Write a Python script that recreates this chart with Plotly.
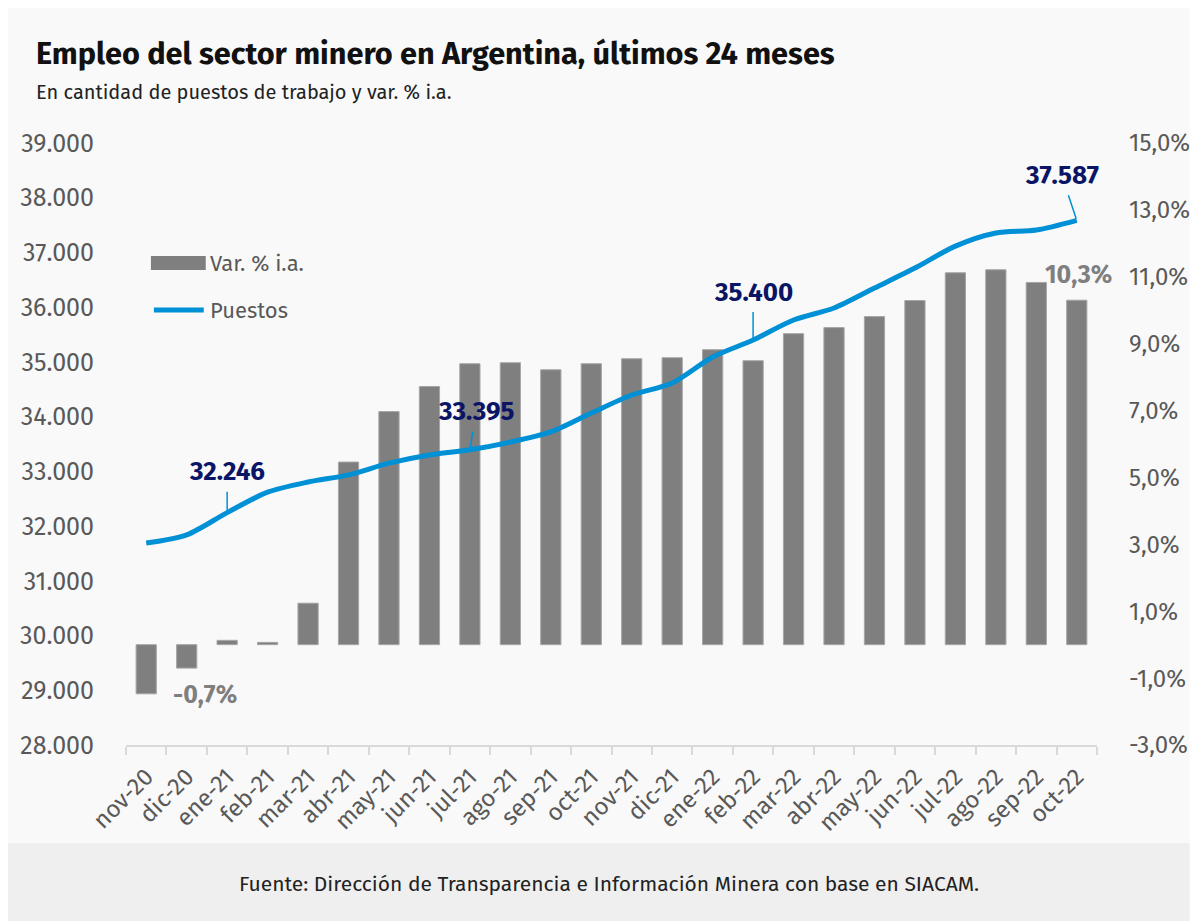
import plotly.graph_objects as go

months = ["nov-20", "dic-20", "ene-21", "feb-21", "mar-21", "abr-21", "may-21", "jun-21",
          "jul-21", "ago-21", "sep-21", "oct-21", "nov-21", "dic-21", "ene-22", "feb-22",
          "mar-22", "abr-22", "may-22", "jun-22", "jul-22", "ago-22", "sep-22", "oct-22"]
var_ia = [-1.47, -0.7, 0.13, 0.07, 1.24, 5.46, 6.97, 7.72, 8.40, 8.43, 8.22, 8.40,
          8.55, 8.58, 8.82, 8.49, 9.30, 9.48, 9.81, 10.29, 11.12, 11.21, 10.83, 10.3]
puestos = [31690, 31840, 32246, 32620, 32805, 32935, 33150, 33300, 33395, 33535, 33720, 34065,
           34395, 34615, 35090, 35400, 35765, 35985, 36350, 36715, 37115, 37355, 37410, 37587]
pct_tickvals = [-3, -1, 1, 3, 5, 7, 9, 11, 13, 15]
pct_ticktext = ["-3,0%", "-1,0%", "1,0%", "3,0%", "5,0%", "7,0%", "9,0%", "11,0%", "13,0%", "15,0%"]

W, H = 1200, 921
OFF = 8  # page body margin: screen = figure + 8
# plot area in screen pixels
SL, SR, ST, SB = 123, 1097, 143, 745
L, R, T, B = SL - OFF, SR - OFF, ST - OFF, SB - OFF
FONT = "Fira Sans, Roboto, sans-serif"
BLUE = "#0090d6"
NAVY = "#0b1566"
GRAY = "#7f7f7f"
TXT = "#595959"


def px(xs):
    return (xs - SL) / (SR - SL)


def py(ys):
    return (SB - ys) / (SB - ST)


fig = go.Figure()
fig.add_trace(go.Bar(
    x=months, y=var_ia, name="Var. % i.a.", yaxis="y",
    marker=dict(color=GRAY, line=dict(color="#a6a6a6", width=1)),
    width=0.5, showlegend=False,
))
fig.add_trace(go.Scatter(
    x=months, y=puestos, name="Puestos", yaxis="y2", mode="lines",
    line=dict(color=BLUE, width=5, shape="spline", smoothing=0.8), showlegend=False,
))

shapes = [
    dict(type="rect", xref="paper", yref="paper", x0=px(0), x1=px(1190), y0=py(0), y1=py(843),
         fillcolor="#f9f9f9", line=dict(width=0), layer="below"),
    dict(type="rect", xref="paper", yref="paper", x0=px(0), x1=px(1190), y0=py(843), y1=py(940),
         fillcolor="#efefef", line=dict(width=0), layer="below"),
    # legend swatches
    dict(type="rect", xref="paper", yref="paper", x0=px(148), x1=px(203), y0=py(256), y1=py(270),
         fillcolor=GRAY, line=dict(width=0)),
    dict(type="line", xref="paper", yref="paper", x0=px(151), x1=px(201), y0=py(310), y1=py(310),
         line=dict(color=BLUE, width=5)),
]

annotations = [
    dict(text="<b>Empleo del sector minero en Argentina, últimos 24 meses</b>", xref="paper", yref="paper",
         x=px(31), y=py(53), xanchor="left", yanchor="middle", showarrow=False,
         font=dict(family=FONT, size=30.7, color="#111111")),
    dict(text="En cantidad de puestos de trabajo y var. % i.a.", xref="paper", yref="paper",
         x=px(31), y=py(92), xanchor="left", yanchor="middle", showarrow=False,
         font=dict(family=FONT, size=20, color="#222222")),
    dict(text="Fuente: Dirección de Transparencia e Información Minera con base en SIACAM.", xref="paper",
         yref="paper", x=px(607), y=py(884), xanchor="center", yanchor="middle", showarrow=False,
         font=dict(family=FONT, size=21, color="#222222")),
    dict(text="Var. % i.a.", xref="paper", yref="paper", x=px(205), y=py(263), xanchor="left",
         yanchor="middle", showarrow=False, font=dict(family=FONT, size=22, color=TXT)),
    dict(text="Puestos", xref="paper", yref="paper", x=px(205), y=py(310), xanchor="left",
         yanchor="middle", showarrow=False, font=dict(family=FONT, size=22, color=TXT)),
]

lab_specs = [(2, 0, -41), (8, 6, -38), (15, 0, -48), (23, -15, -45)]
for i, ax, ay in lab_specs:
    annotations.append(dict(
        x=months[i], y=puestos[i], xref="x", yref="y2",
        text="<b>" + f"{puestos[i]:,}".replace(",", ".") + "</b>",
        showarrow=True, arrowhead=0, arrowwidth=1.5, arrowcolor=BLUE, ax=ax, ay=ay,
        standoff=2, startstandoff=3,
        font=dict(family=FONT, size=26, color=NAVY),
    ))

for i, xs, ys in [(1, 18, -27), (23, 2, 25)]:
    annotations.append(dict(
        x=months[i], y=var_ia[i], xref="x", yref="y", showarrow=False,
        text="<b>" + f"{var_ia[i]:.1f}".replace(".", ",") + "%</b>",
        xshift=xs, yshift=ys, font=dict(family=FONT, size=25, color=GRAY),
    ))

fig.update_layout(
    width=W, height=H,
    margin=dict(l=L, r=W - R, t=T, b=H - B, pad=0),
    paper_bgcolor="white", plot_bgcolor="rgba(0,0,0,0)",
    separators=",.",
    font=dict(family=FONT, size=20, color=TXT),
    showlegend=False,
    xaxis=dict(type="category", showgrid=False, showline=True, linecolor="#d9d9d9", linewidth=2,
               ticks="outside", tickson="boundaries", ticklen=8, tickcolor="#d9d9d9", tickwidth=1.5,
               tickangle=-45, tickfont=dict(family=FONT, size=24, color=TXT), ticklabelstandoff=6,
               range=[-0.5, 23.5]),
    yaxis=dict(side="right", range=[-3, 15], tickvals=pct_tickvals, ticktext=pct_ticktext,
               showgrid=False, zeroline=False, showline=False, ticks="",
               tickfont=dict(family=FONT, size=24, color=TXT), ticklabelstandoff=31),
    yaxis2=dict(side="left", overlaying="y", range=[28000, 39000], dtick=1000, tickformat=",d",
                showgrid=False, zeroline=False, showline=False, ticks="",
                tickfont=dict(family=FONT, size=25, color=TXT), ticklabelstandoff=31),
    shapes=shapes,
    annotations=annotations,
)

fig.write_html("out.html")
